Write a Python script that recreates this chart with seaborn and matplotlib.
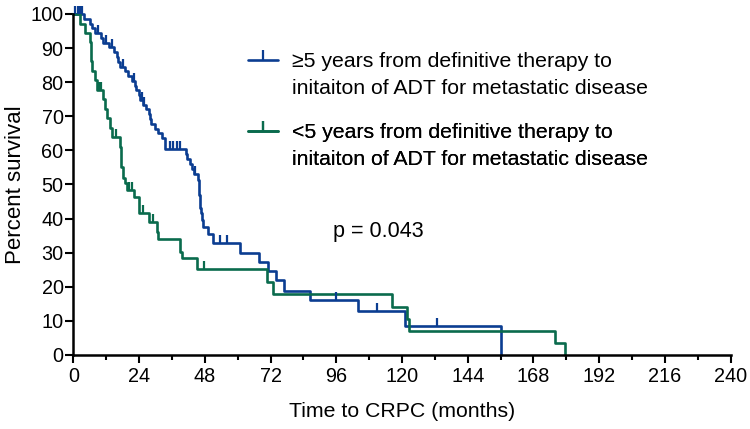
import numpy as np
import pandas as pd
import matplotlib
matplotlib.use('Agg')
import matplotlib.pyplot as plt
import seaborn as sns
from matplotlib.lines import Line2D
from matplotlib.ticker import MultipleLocator

# ---------------- data ----------------
blue_t = [0, 4, 6, 7, 8, 10, 11, 13, 15, 16, 16.5, 17, 19, 20, 21.5, 22.5, 23, 24, 24.5, 25.5,
          26.5, 27.5, 28, 28.5, 30, 31, 32.5, 33.5, 41, 41.5, 42.5, 43.5, 44, 45.5, 45.8, 46, 46.2,
          46.4, 46.7, 47, 47.5, 49, 51, 61, 67.8, 71.2, 74, 77, 86.4, 104, 121, 156]
blue_s = [100, 98.6, 97.2, 95.8, 94.4, 93, 91.6, 90.2, 88.8, 87.4, 86, 84.6, 83.2, 81.8, 80.4, 79,
          77.6, 76.2, 74.8, 73.4, 72, 70.6, 69.2, 67.8, 66.4, 65, 63.6, 60.5, 59, 57.6, 56, 54.5,
          53, 51.3, 49, 47, 45, 43, 41.5, 39.6, 37.5, 35.5, 32.8, 29.8, 27.2, 24.6, 21.9, 18.9,
          16.1, 12.9, 8.6, 0]
blue_cens_t = [0.8, 1.6, 2.4, 3.2, 9, 12, 14, 18, 22, 25, 26, 35.3, 36.5, 37.8, 39, 44.6,
               53.6, 56.2, 95.8, 110.8, 132.7]

green_t = [0, 2.4, 4.3, 6, 6.3, 6.5, 6.7, 7.9, 8.5, 11, 11.6, 12.2, 13.4, 14, 17, 17.3, 17.6,
           18.3, 18.9, 19.5, 22.3, 24, 27.8, 30.4, 31, 39, 39.6, 45, 70.8, 73, 116.2, 122,
           122.5, 176, 179.5]
green_s = [100, 97.2, 94.4, 91.7, 88.9, 86.1, 83.3, 80.6, 77.8, 75, 72.2, 69.4, 66.7, 63.9, 61,
           58, 55, 52, 50.3, 48.4, 46.4, 41.5, 39.1, 36.2, 33.9, 30.3, 28.4, 25.1, 21.5, 17.9,
           14.2, 10.5, 7, 3.5, 0]
green_cens_t = [9.5, 10.3, 15.7, 20.5, 21.5, 25.6, 29.2, 47.7]

groups = ["ge5", "lt5"]
label_lines = {
    "ge5": ["≥5 years from definitive therapy to", "initaiton of ADT for metastatic disease"],
    "lt5": ["<5 years from definitive therapy to", "initaiton of ADT for metastatic disease"],
}
colors = {"ge5": "#0b3d91", "lt5": "#0a6b4d"}
x_ticks = list(range(0, 241, 24))
y_ticks = list(range(0, 101, 10))
p_text = "p = 0.043"

# ---------------- build tables ----------------
df = pd.concat([
    pd.DataFrame({"time": blue_t, "surv": blue_s, "group": "ge5"}),
    pd.DataFrame({"time": green_t, "surv": green_s, "group": "lt5"}),
], ignore_index=True)


def surv_at(ts, ss, tq):
    ts = np.asarray(ts)
    ss = np.asarray(ss)
    idx = np.searchsorted(ts, tq, side="right") - 1
    return ss[idx]


cens = pd.concat([
    pd.DataFrame({"time": blue_cens_t, "surv": surv_at(blue_t, blue_s, blue_cens_t), "group": "ge5"}),
    pd.DataFrame({"time": green_cens_t, "surv": surv_at(green_t, green_s, green_cens_t), "group": "lt5"}),
], ignore_index=True)

# ---------------- style ----------------
sns.set_style("ticks")
plt.rcParams['font.family'] = ['Liberation Sans', 'DejaVu Sans']
plt.rcParams['text.color'] = 'black'
plt.rcParams['axes.labelcolor'] = 'black'

fig = plt.figure(figsize=(7.5, 4.29), dpi=100)
ax = fig.add_axes([0.0977, 0.1725, 0.9743 - 0.0977, 0.9674 - 0.1725])

lw = 1.9
sns.lineplot(data=df, x="time", y="surv", hue="group", hue_order=groups, palette=colors,
             drawstyle="steps-post", estimator=None, sort=False, legend=False,
             linewidth=lw, clip_on=False, ax=ax)

for g in groups:
    sub = cens[cens.group == g]
    ax.plot(sub.time, sub.surv, linestyle="none", marker=2, markersize=6,
            markeredgewidth=1.6, color=colors[g], clip_on=False)

ax.set_xlim(0, 240)
ax.set_ylim(0, 100)
ax.set_xticks(x_ticks)
ax.set_yticks(y_ticks)
ax.xaxis.set_minor_locator(MultipleLocator(12))
ax.tick_params(axis="both", which="major", direction="out", length=5.5, width=1.5,
               labelsize=14.3, color="black", labelcolor="black", pad=1.5)
ax.tick_params(axis="x", which="major", pad=3.5)
ax.tick_params(axis="x", which="minor", direction="out", length=3.5, width=1.5, color="black")
for s in ["top", "right"]:
    ax.spines[s].set_visible(False)
for s in ["left", "bottom"]:
    ax.spines[s].set_linewidth(1.8)
    ax.spines[s].set_color("black")

ax.set_xlabel("Time to CRPC (months)", fontsize=15.3, labelpad=11, color="black")
ax.set_ylabel("Percent survival", fontsize=16, labelpad=3, color="black")

ax.text(94.8, 36.1, p_text, fontsize=15.5, va="center", ha="left", color="black")

# legends: handle aligned with first line of each label
anchors = {"ge5": 1 - 52 / 429, "lt5": 1 - 123 / 429}
for g in groups:
    h = Line2D([], [], color=colors[g], linewidth=lw, marker=2, markersize=7,
               markeredgewidth=1.6)
    blank = Line2D([], [], color="none")
    leg = ax.legend([h, blank], label_lines[g], loc="upper left",
                    bbox_to_anchor=(248 / 750, anchors[g]), bbox_transform=fig.transFigure,
                    frameon=False, fontsize=15.3, handlelength=1.4, handletextpad=0.65,
                    labelspacing=0.36, borderpad=0, borderaxespad=0, numpoints=1,
                    labelcolor="black")
    ax.add_artist(leg)

fig.savefig("out.png", dpi=100)
